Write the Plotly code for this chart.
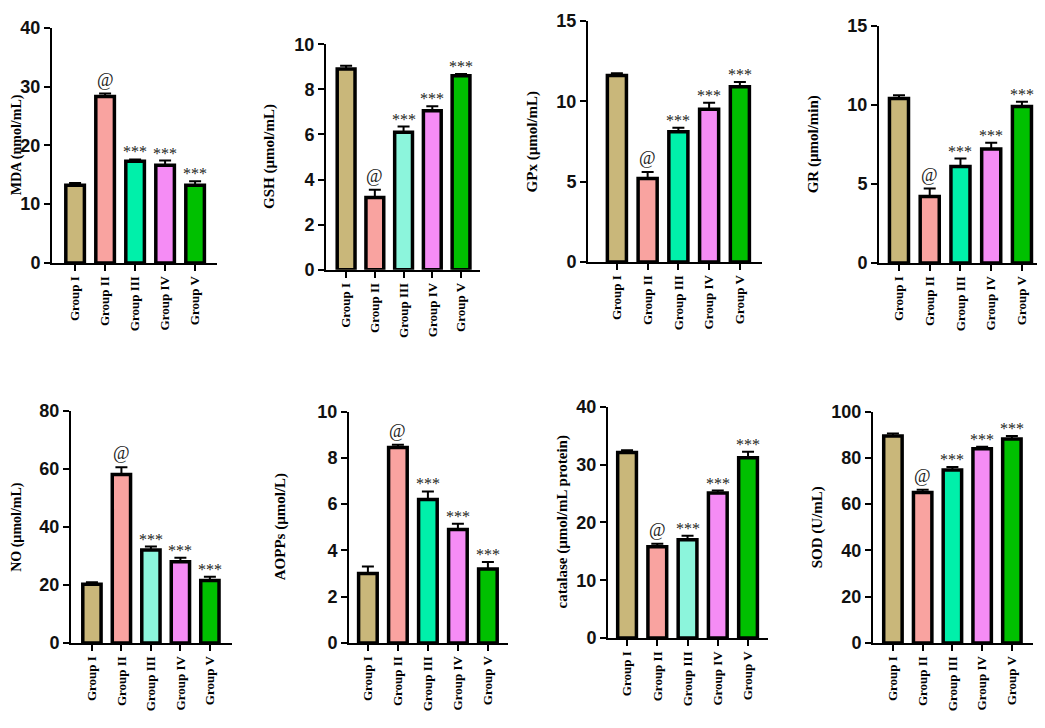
import plotly.graph_objects as go

# ---------------------------------------------------------------------------
# Data
# ---------------------------------------------------------------------------
groups = ["Group I", "Group II", "Group III", "Group IV", "Group V"]

mda = [13.2, 28.3, 17.3, 16.6, 13.2]
mda_err = [0.4, 0.5, 0.3, 0.8, 0.7]
gsh = [8.9, 3.2, 6.1, 7.05, 8.6]
gsh_err = [0.15, 0.35, 0.25, 0.2, 0.08]
gpx = [11.6, 5.2, 8.1, 9.5, 10.9]
gpx_err = [0.15, 0.4, 0.25, 0.4, 0.3]
gr = [10.4, 4.2, 6.1, 7.2, 9.9]
gr_err = [0.2, 0.5, 0.5, 0.4, 0.3]
no = [20.2, 58.0, 32.0, 28.0, 21.5]
no_err = [0.7, 2.5, 1.2, 1.3, 1.3]
aopps = [3.0, 8.45, 6.2, 4.9, 3.2]
aopps_err = [0.3, 0.12, 0.35, 0.25, 0.3]
catalase = [32.1, 15.8, 17.0, 25.1, 31.2]
catalase_err = [0.4, 0.5, 0.7, 0.4, 1.0]
sod = [89.5, 65.0, 74.8, 84.0, 88.2]
sod_err = [1.0, 1.2, 1.3, 0.8, 1.3]

marks = ["", "@", "***", "***", "***"]

y_titles = ["MDA (nmol/mL)", "GSH (µmol/mL)", "GPx (µmol/mL)", "GR (µmol/min)",
            "NO (µmol/mL)", "AOPPs (µmol/L)", "catalase (µmol/mL protein)", "SOD (U/mL)"]
y_max = [40, 10, 15, 15, 80, 10, 40, 100]
y_dtick = [10, 2, 5, 5, 20, 2, 10, 20]

# ---------------------------------------------------------------------------
# Layout helpers (pixel boxes measured on the 1045x728 page; the page body
# keeps its default 8px margin, so the figure itself is 16px smaller)
# ---------------------------------------------------------------------------
PAGE_W, PAGE_H = 1045, 728
PAD = 8
W, H = PAGE_W - 2 * PAD, PAGE_H - 2 * PAD


def px_x(px):
    return min(max((px - PAD) / W, 0.0), 1.0)


def px_y(py):
    return min(max(1 - (py - PAD) / H, 0.0), 1.0)


boxes = [  # x0, x1, y_top, y_zero
    (52, 217, 18, 260), (326, 480, 35, 267), (588, 762, 11, 259), (879, 1037, 16, 260),
    (71, 232, 412, 651), (349, 508, 413, 651), (608, 768, 408, 646), (873, 1033, 413, 651),
]
x_ranges = [(-0.77, 4.73), (-0.70, 4.66), (-0.94, 4.72), (-0.65, 4.49),
            (-0.71, 4.75), (-0.63, 4.67), (-0.63, 4.66), (-0.67, 4.71)]
title_x = [17, 270, 532, 813, 17, 280, 562, 817]
title_size = [14, 15, 15, 15, 14, 15, 15, 15]

mint_bright = "#00F0AA"
mint_light = "#8CF5DC"
panel_colors = []
for light in [False, True, False, False, True, False, True, False]:
    panel_colors.append(["#C9B77A", "#F9A3A0", mint_light if light else mint_bright,
                         "#F58CF5", "#00C000"])

panels = [(mda, mda_err), (gsh, gsh_err), (gpx, gpx_err), (gr, gr_err),
          (no, no_err), (aopps, aopps_err), (catalase, catalase_err), (sod, sod_err)]

fig = go.Figure()
annotations = []

for i, (vals, errs) in enumerate(panels):
    n = i + 1
    xa = "x" if n == 1 else f"x{n}"
    ya = "y" if n == 1 else f"y{n}"
    x0, x1, yt, yz = boxes[i]

    fig.add_trace(go.Bar(
        x=list(range(len(groups))), y=vals,
        xaxis=xa, yaxis=ya,
        width=0.62,
        marker=dict(color=panel_colors[i], line=dict(color="black", width=3.5)),
        error_y=dict(type="data", symmetric=False, array=errs,
                     arrayminus=[0] * len(errs), color="black", thickness=2, width=6),
        showlegend=False,
    ))

    for j, m in enumerate(marks):
        if not m:
            continue
        annotations.append(dict(
            x=j, y=vals[j] + errs[j], xref=xa, yref=ya, text=m, showarrow=False,
            yanchor="bottom", yshift=2 if m == "@" else -3,
            font=dict(family="Liberation Serif", size=18 if m == "@" else 16, color="#222222"),
        ))

    annotations.append(dict(
        x=px_x(title_x[i]), y=px_y((yt + yz) / 2), xref="paper", yref="paper",
        text=f"<b>{y_titles[i]}</b>", showarrow=False, textangle=-90,
        xanchor="center", yanchor="middle", borderpad=0,
        font=dict(family="Liberation Serif", size=title_size[i], color="black"),
    ))

    axis_common = dict(showline=True, linecolor="black", linewidth=2, ticks="outside",
                       tickcolor="black", tickwidth=2, ticklen=6, showgrid=False,
                       zeroline=False)
    fig.layout[f"xaxis{'' if n == 1 else n}"] = dict(
        domain=[px_x(x0), px_x(x1)], anchor=ya, range=list(x_ranges[i]),
        tickvals=list(range(len(groups))), ticktext=groups, tickangle=-90,
        tickfont=dict(family="Liberation Serif", size=13, color="black", weight="bold"),
        **axis_common,
    )
    fig.layout[f"yaxis{'' if n == 1 else n}"] = dict(
        domain=[px_y(yz), px_y(yt)], anchor=xa, range=[0, y_max[i]],
        dtick=y_dtick[i], tick0=0,
        tickfont=dict(family="Liberation Sans", size=18, color="#111111", weight="bold"),
        **axis_common,
    )

fig.update_layout(
    width=W, height=H,
    margin=dict(l=0, r=0, t=0, b=0),
    paper_bgcolor="white", plot_bgcolor="white",
    annotations=annotations,
)

fig.write_html("out.html")
